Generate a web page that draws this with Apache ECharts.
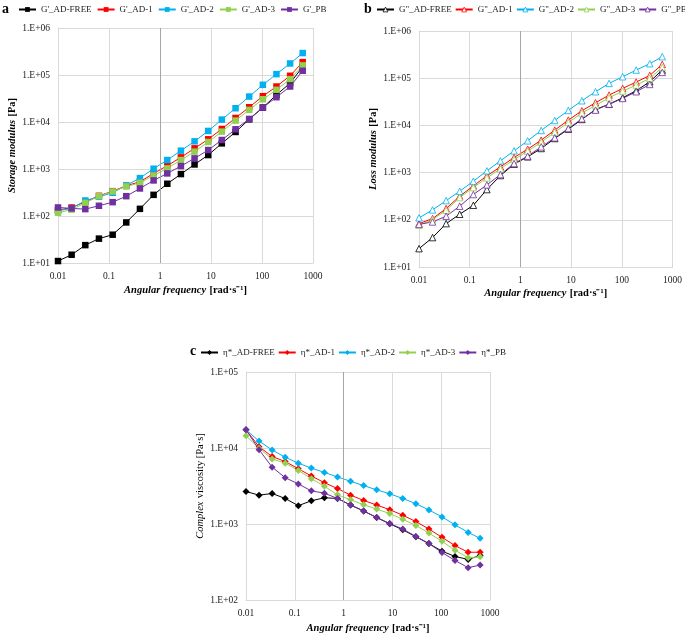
<!DOCTYPE html>
<html>
<head>
<meta charset="utf-8">
<script src="https://cdn.jsdelivr.net/npm/echarts@6/dist/echarts.min.js"></script>
<style>
html,body{margin:0;padding:0;background:#fff;}
#chart{width:685px;height:635px;}
</style>
</head>
<body>
<div id="chart"></div>
<script>
// ---- data ----
var freq = [0.01, 0.0185, 0.0343, 0.0635, 0.118, 0.218, 0.404, 0.749, 1.39, 2.57, 4.76, 8.82, 16.3, 30.3, 56.1, 104, 192, 356, 628];

var sampleNames = ['AD-FREE', 'AD-1', 'AD-2', 'AD-3', 'PB'];
var colors = ['#000000', '#FF0000', '#00B0F0', '#92D050', '#7030A0'];

// Storage modulus G' [Pa]
var gpFree = [11, 15, 24, 33, 40, 73, 142, 282, 485, 780, 1250, 1980, 3510, 6140, 11400, 20300, 37800, 67000, 150000];
var gpAD1  = [133, 152, 200, 269, 338, 440, 535, 805, 1175, 1770, 2750, 4285, 7110, 12200, 20600, 35400, 56900, 96200, 188000];
var gpAD2  = [130, 144, 214, 256, 312, 447, 641, 1014, 1552, 2455, 3880, 6450, 11250, 19630, 34800, 61800, 104400, 176000, 293000];
var gpAD3  = [117, 137, 190, 264, 333, 425, 509, 730, 1030, 1552, 2335, 3755, 6240, 10700, 18100, 30500, 48300, 81600, 160000];
var gpPB   = [152, 145, 140, 165, 197, 264, 385, 571, 805, 1155, 1683, 2535, 4140, 7000, 11620, 20300, 33700, 56900, 123000];

// Loss modulus G'' [Pa]
var gppFree = [24.5, 42, 83, 131, 203, 437, 867, 1508, 2158, 3243, 5280, 8340, 13370, 21780, 28000, 38500, 54200, 84100, 149000];
var gppAD1  = [83, 106, 173, 316, 523, 853, 1324, 2088, 3135, 4866, 7940, 12940, 20400, 30180, 43850, 60800, 82800, 114600, 196300];
var gppAD2  = [110, 162, 255, 403, 657, 1089, 1774, 2890, 4710, 7810, 12730, 20750, 33270, 51640, 77600, 107400, 148800, 202700, 285400];
var gppAD3  = [77, 101, 159, 296, 482, 773, 1200, 1893, 2845, 4415, 7195, 11540, 18200, 26500, 38500, 53300, 71500, 99000, 169500];
var gppPB   = [80, 90, 119, 194, 343, 549, 910, 1557, 2228, 3515, 5460, 8610, 13800, 21090, 28250, 37250, 51640, 73800, 132800];

// Complex viscosity eta* [Pa·s]
var etaFree = [2675, 2397, 2520, 2169, 1741, 2022, 2213, 2169, 1776, 1484, 1216, 1005, 839, 680, 552, 439, 374, 342, 385];
var etaAD1  = [17330, 10400, 7715, 6640, 5330, 4280, 3500, 2927, 2397, 2042, 1776, 1544, 1303, 1078, 857, 667, 520, 425, 425];
var etaAD2  = [17330, 12330, 9420, 7560, 6315, 5435, 4775, 4150, 3645, 3200, 2812, 2495, 2169, 1849, 1529, 1240, 975, 775, 647];
var etaAD3  = [14480, 9900, 7190, 6315, 5070, 3950, 3139, 2420, 2083, 1793, 1575, 1370, 1155, 956, 760, 592, 452, 359, 370];
var etaPB   = [17330, 9510, 5600, 4070, 3367, 2729, 2545, 2169, 1776, 1484, 1216, 1015, 857, 687, 552, 421, 332, 266, 288];

var xTickLabels = {'-2':'0.01','-1':'0.1','0':'1','1':'10','2':'100','3':'1000'};

// ---- chart ----
var FONT = 'Liberation Serif, Times New Roman, serif';
var GRID_COLOR = '#d9d9d9';

function pairs(ys){ return freq.map(function(f,i){ return [f, ys[i]]; }); }

function yFmt(v){
  var e = Math.round(Math.log10(v));
  return '1.E' + (e < 0 ? '-' : '+') + (Math.abs(e) < 10 ? '0' : '') + Math.abs(e);
}
function xFmt(v){
  var e = Math.round(Math.log10(v));
  return xTickLabels[String(e)] || String(v);
}

var grids = [
  {left:58, right:372, top:28, bottom:372},
  {left:419, right:11, top:31, bottom:368},
  {left:246, right:195, top:372, bottom:32}
];

var xNameRich = {
  i:{fontFamily:FONT, fontStyle:'italic', fontWeight:'bold', fontSize:10.5, color:'#000'},
  b:{fontFamily:FONT, fontWeight:'bold', fontSize:10.5, color:'#000'}
};
function xAxis(idx, gap){
  return {
    type:'log', logBase:10, gridIndex:idx, min:0.01, max:1000,
    name:'{i|Angular frequency} {b|[rad·s⁻¹]}', nameLocation:'middle', nameGap:gap,
    nameTextStyle:{rich:xNameRich},
    axisLine:{show:true, onZero:false, lineStyle:{color:GRID_COLOR}},
    axisTick:{show:false},
    axisLabel:{fontFamily:FONT, fontSize:9.5, color:'#222', margin:8, formatter:xFmt},
    splitLine:{show:true, lineStyle:{color:GRID_COLOR, width:1}},
    minorTick:{show:false}
  };
}
function yAxis(idx, min, max, name, rich, gap){
  return {
    type:'log', logBase:10, gridIndex:idx, min:min, max:max,
    name:name, nameLocation:'middle', nameGap:gap, nameRotate:90,
    nameTextStyle:{rich:rich},
    axisLine:{show:true, lineStyle:{color:GRID_COLOR}},
    axisTick:{show:false},
    axisLabel:{fontFamily:FONT, fontSize:9.5, color:'#222', margin:8, formatter:yFmt},
    splitLine:{show:true, lineStyle:{color:GRID_COLOR, width:1}}
  };
}

var series = [];
function addSeries(prefix, arrs, symbol, size, gi, hollow){
  arrs.forEach(function(a, k){
    series.push({
      type:'line', name: prefix + sampleNames[k], xAxisIndex:gi, yAxisIndex:gi,
      data: pairs(a), symbol:symbol, symbolSize:size, showSymbol:true,
      lineStyle:{color:colors[k], width:1},
      itemStyle: hollow
        ? {color:'#ffffff', borderColor:colors[k], borderWidth:0.8}
        : {color:colors[k], borderWidth:0},
      emphasis:{disabled:true}, animation:false, z:3
    });
  });
  // the darker vertical axis line at x = 1
  series.push({
    type:'line', xAxisIndex:gi, yAxisIndex:gi, data:[], z:1, animation:false,
    markLine:{silent:true, symbol:'none', label:{show:false}, animation:false,
      lineStyle:{color:'#a6a6a6', type:'solid', width:1}, data:[{xAxis:1}]}
  });
}
addSeries("G'_", [gpFree, gpAD1, gpAD2, gpAD3, gpPB], 'rect', 6.5, 0, false);
addSeries('G"_', [gppFree, gppAD1, gppAD2, gppAD3, gppPB], 'triangle', 6.5, 1, true);
addSeries('η*_', [etaFree, etaAD1, etaAD2, etaAD3, etaPB], 'diamond', 7, 2, false);

function legend(prefix, left, top, gap, hollow){
  var lg = {
    data: sampleNames.map(function(n){ return prefix + n; }),
    left:left, top:top, width:360, itemWidth:17, itemHeight:6, itemGap:gap, padding:0,
    textStyle:{fontFamily:FONT, fontSize:9, color:'#222'},
    selectedMode:false
  };
  if (hollow) {
    lg.data = sampleNames.map(function(n, k){
      return {name: prefix + n, itemStyle:{color:'#ffffff', borderColor:colors[k], borderWidth:0.8}};
    });
  }
  return lg;
}

var option = {
  backgroundColor:'#ffffff',
  animation:false,
  grid: grids,
  legend:[legend("G'_", 18, 5, 5, false), legend('G"_', 376, 5, 3, true), legend('η*_', 200, 348, 3, false)],
  xAxis:[xAxis(0, 21), xAxis(1, 20), xAxis(2, 22)],
  yAxis:[
    yAxis(0, 10, 1e6, '{i|Storage modulus} {b|[Pa]}', xNameRich, 36),
    yAxis(1, 10, 1e6, '{i|Loss modulus} {b|[Pa]}', xNameRich, 37),
    yAxis(2, 100, 1e5, '{i|Complex} {r|viscosity [Pa·s]}', {
      i:{fontFamily:FONT, fontStyle:'italic', fontSize:10.5, color:'#000'},
      r:{fontFamily:FONT, fontSize:10.5, color:'#000'}
    }, 35)
  ],
  graphic:[
    {type:'text', left:2, top:2, style:{text:'a', font:'bold 14px ' + FONT, fill:'#000'}},
    {type:'text', left:364, top:2, style:{text:'b', font:'bold 14px ' + FONT, fill:'#000'}},
    {type:'text', left:190, top:344, style:{text:'c', font:'bold 14px ' + FONT, fill:'#000'}}
  ],
  series: series
};

var chart = echarts.init(document.getElementById('chart'), null, {renderer:'canvas'});
chart.setOption(option);
</script>
</body>
</html>
